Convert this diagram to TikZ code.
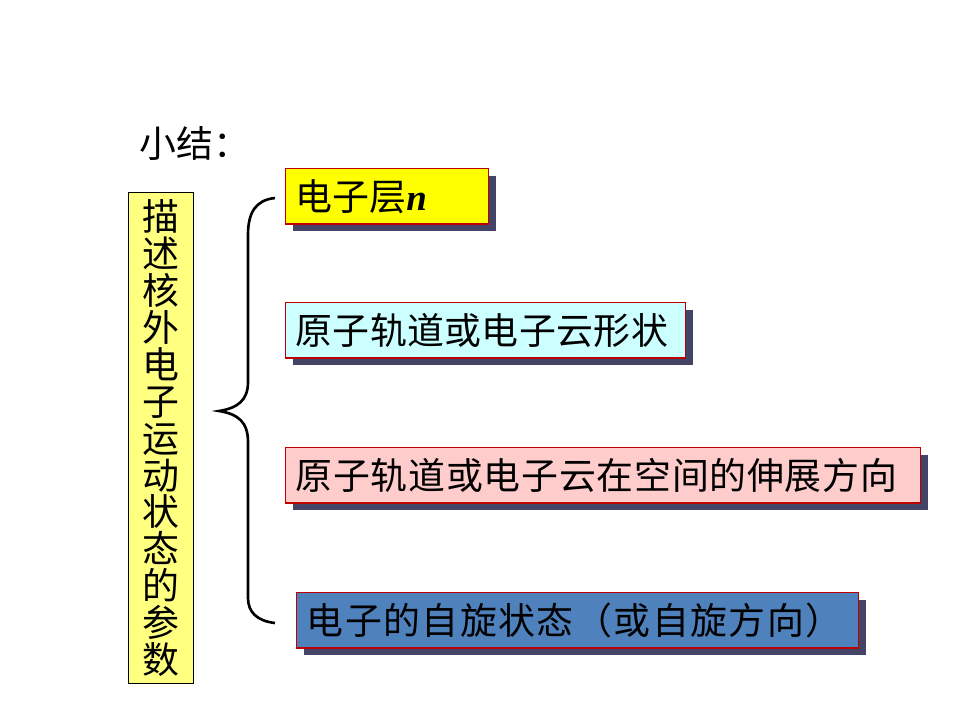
\documentclass[tikz,border=0pt]{standalone}
\usepackage{fontspec}
\setmainfont{Noto Sans CJK SC}
\newfontfamily\latinfont{Liberation Serif}
\usepackage{tikz}
\usepackage{xcolor}
\usetikzlibrary{positioning,shapes,shadows}

\definecolor{boxred}{RGB}{192,0,0}
\definecolor{shadowblue}{RGB}{68,68,102}
\definecolor{labelyellow}{RGB}{255,255,128}
\definecolor{layeryellow}{RGB}{255,255,0}
\definecolor{shapecyan}{RGB}{204,255,255}
\definecolor{dirpink}{RGB}{255,204,204}
\definecolor{spinblue}{RGB}{79,129,189}

\tikzset{
  bigtext/.style={font=\fontsize{21}{24}\selectfont},
  paramlabel/.style={bigtext, draw=black, line width=0.8pt, fill=labelyellow,
    anchor=north west, minimum width=1.3cm, minimum height=9.82cm,
    inner sep=0pt, align=center, font=\fontsize{21}{21}\selectfont},
  itembox/.style={bigtext, draw=boxred, line width=0.8pt, anchor=north west,
    minimum height=1.11cm, inner xsep=0.2cm, inner ysep=0pt, align=left,
    drop shadow={shadow xshift=0.14cm, shadow yshift=-0.14cm,
      fill=shadowblue, opacity=1}}
}

\begin{document}
\begin{tikzpicture}[x=0.02cm,y=-0.02cm]
\useasboundingbox (0,0) rectangle (960,720);
\node [bigtext, anchor=west, inner sep=0pt] (title) at (139,143) {小结：};
\node [paramlabel] (param) at (128,192)
  {描\\述\\核\\外\\电\\子\\运\\动\\状\\态\\的\\参\\数};
\node [itembox, fill=layeryellow, text width=3.66cm] (layer) at (285,168)
  {电子层{\latinfont\bfseries\itshape n}};
\node [itembox, fill=shapecyan, text width=7.6cm] (shape) at (285,302)
  {\addfontfeature{LetterSpace=1}原子轨道或电子云形状};
\node [itembox, fill=dirpink, text width=12.3cm] (direction) at (285,447)
  {\addfontfeature{LetterSpace=2}原子轨道或电子云在空间的伸展方向};
\node [itembox, fill=spinblue, text width=10.84cm] (spin) at (296,592)
  {\addfontfeature{LetterSpace=4}电子的自旋状态（或自旋方向）};
\coordinate (bracetop) at (275,198);
\coordinate (bracetip) at (219,411);
\coordinate (bracebot) at (275,623);
\draw [black, line width=1.5pt] (bracetop)
  .. controls (256,200) and (248,212) .. (248,235) -- (248,382)
  .. controls (248,400) and (238,408) .. (bracetip)
  .. controls (238,414) and (248,422) .. (248,442) -- (248,598)
  .. controls (248,612) and (257,621) .. (bracebot);
\end{tikzpicture}
\end{document}
